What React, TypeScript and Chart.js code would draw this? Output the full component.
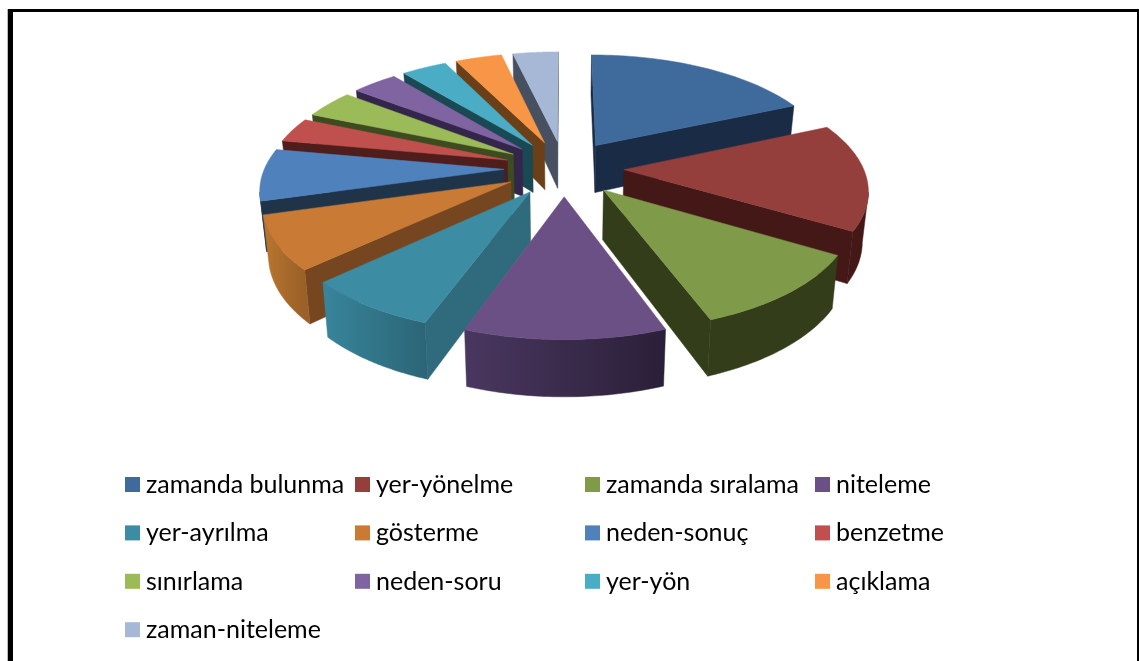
import React, { useEffect, useRef } from "react";
import { Chart, registerables } from "chart.js";

Chart.register(...registerables);

const labels = [
  "zamanda bulunma", "yer-yönelme", "zamanda sıralama", "niteleme",
  "yer-ayrılma", "gösterme", "neden-sonuç", "benzetme",
  "sınırlama", "neden-soru", "yer-yön", "açıklama", "zaman-niteleme",
];
const values = [18.3, 15.1, 10.8, 11.1, 7.5, 7.5, 7.3, 3.5, 4.0, 3.6, 3.6, 3.7, 3.6];
const topColors = [
  "#3F6A9C", "#953F3D", "#7F9B4A", "#6A5084", "#3C8CA3", "#C97A35", "#4F81BD",
  "#C0504D", "#9BBB59", "#8064A2", "#4BACC6", "#F79646", "#A7B8D7",
];
const faceColors = [
  "#1A2C45", "#431816", "#333D1A", "#2F2340", "#2F6A7D", "#764621", "#1F3349",
  "#4F1D1C", "#3E4B20", "#33264A", "#1A4853", "#6B4019", "#465060",
];
const wallLight = [
  "#1A2C45", "#431816", "#333D1A", "#4A3760", "#38859B", "#B9762F", "#1F3349",
  "#4F1D1C", "#3E4B20", "#33264A", "#1A4853", "#6B4019", "#465060",
];
const wallDark = [
  "#1A2C45", "#431816", "#333D1A", "#2A1F38", "#2C6577", "#9A6028", "#1F3349",
  "#4F1D1C", "#3E4B20", "#33264A", "#1A4853", "#6B4019", "#465060",
];

const EXPLODE = 0.25;
const PERSPECTIVE = 0.1538;
const SCALE_X = 1.425;
const SCALE_Y = 0.66;

const pie3d = {
  id: "pie3d",
  beforeDatasetsDraw(chart: any) {
    const ctx: CanvasRenderingContext2D = chart.ctx;
    const arcs: any[] = chart.getDatasetMeta(0).data;
    const project = (a: any, X: number, Y: number, z: number) => {
      const w = 1 / (1 - PERSPECTIVE * Y);
      return [
        a.x + SCALE_X * a.outerRadius * X * w * (1 - 0.02 * z),
        a.y + SCALE_Y * a.outerRadius * Y * w + z * (48.5 + 7 * Y),
      ];
    };
    const camY = 1 / PERSPECTIVE;
    const poly = (pts: number[][], fill: any) => {
      ctx.beginPath();
      pts.forEach((p, i) => (i ? ctx.lineTo(p[0], p[1]) : ctx.moveTo(p[0], p[1])));
      ctx.closePath();
      ctx.fillStyle = fill;
      ctx.strokeStyle = fill;
      ctx.lineWidth = 0.5;
      ctx.fill();
      ctx.stroke();
    };
    const order = arcs
      .map((arc, i) => ({ arc, i, mid: (arc.startAngle + arc.endAngle) / 2 }))
      .sort((p, q) => Math.sin(p.mid) - Math.sin(q.mid));
    order.forEach(({ arc, i, mid }) => {
      const ex = EXPLODE * Math.cos(mid);
      const ey = EXPLODE * Math.sin(mid);
      const s = arc.startAngle;
      const e = arc.endAngle;
      const rim: number[][] = [];
      const n = 48;
      for (let k = 0; k <= n; k++) {
        const t = s + ((e - s) * k) / n;
        rim.push([t, ex + Math.cos(t), ey + Math.sin(t)]);
      }
      const tipTop = project(arc, ex, ey, 0);
      const tipBottom = project(arc, ex, ey, 1);
      const face = (a: number, nx: number, ny: number) => {
        if (nx * -ex + ny * (camY - ey) <= 0) return;
        const ox = ex + Math.cos(a);
        const oy = ey + Math.sin(a);
        poly([tipTop, project(arc, ox, oy, 0), project(arc, ox, oy, 1), tipBottom], faceColors[i]);
      };
      face(s, Math.sin(s), -Math.cos(s));
      face(e, -Math.sin(e), Math.cos(e));
      const seen = rim.filter((r) => Math.cos(r[0]) * -r[1] + Math.sin(r[0]) * (camY - r[2]) > 0);
      if (seen.length > 1) {
        const upper = seen.map((r) => project(arc, r[1], r[2], 0));
        const lower = seen.map((r) => project(arc, r[1], r[2], 1)).reverse();
        const xs = upper.map((p) => p[0]);
        const g = ctx.createLinearGradient(Math.min(...xs), 0, Math.max(...xs), 0);
        g.addColorStop(0, wallLight[i]);
        g.addColorStop(1, wallDark[i]);
        poly([...upper, ...lower], g);
      }
      poly([tipTop, ...rim.map((r) => project(arc, r[1], r[2], 0))], topColors[i]);
    });
    return false;
  },
};

const legendAndFrame = {
  id: "legendAndFrame",
  afterDraw(chart: any) {
    const ctx: CanvasRenderingContext2D = chart.ctx;
    ctx.save();
    ctx.fillStyle = "#BBBBBB";
    ctx.fillRect(7, 9, 1, 652);
    ctx.fillStyle = "#000000";
    ctx.fillRect(8, 9, 5, 652);
    ctx.fillRect(8, 9, 1131, 3);
    ctx.fillRect(1137, 9, 2, 652);
    ctx.font = "25px Lato";
    ctx.textBaseline = "alphabetic";
    chart.data.labels.forEach((label: string, i: number) => {
      const col = i % 4;
      const row = Math.floor(i / 4);
      const x = 125 + col * 230;
      const y = 477 + row * 48.4;
      ctx.fillStyle = topColors[i];
      ctx.fillRect(x, y, 15, 15);
      ctx.fillStyle = "#000000";
      ctx.fillText(label, x + 21, y + 16);
    });
    ctx.restore();
  },
};

export default function App() {
  const ref = useRef<HTMLCanvasElement>(null);
  useEffect(() => {
    const chart = new Chart(ref.current as HTMLCanvasElement, {
      type: "pie",
      data: {
        labels,
        datasets: [{ data: values, backgroundColor: topColors, borderWidth: 0 }],
      },
      options: {
        animation: false,
        responsive: false,
        maintainAspectRatio: false,
        layout: { padding: { left: 0, top: 0, right: 11, bottom: 325 } },
        plugins: { legend: { display: false }, tooltip: { enabled: false } },
      },
      plugins: [pie3d, legendAndFrame],
    } as any);
    return () => chart.destroy();
  }, []);
  return (
    <div style={{ position: "absolute", left: 0, top: 0, width: 1139, height: 661, background: "#fff" }}>
      <canvas ref={ref} width={1139} height={661} style={{ display: "block" }} />
    </div>
  );
}
